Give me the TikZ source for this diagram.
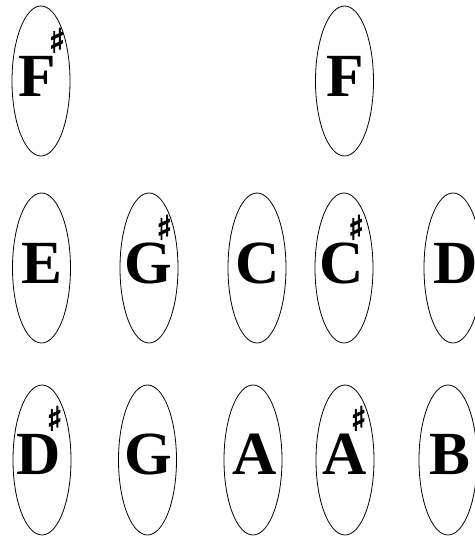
\documentclass[tikz,border=0pt]{standalone}
\usepackage{fontspec}
\setmainfont{Liberation Serif}[BoldFont={Liberation Serif Bold}]
\newfontfamily\shpfont{DejaVu Sans}[FakeBold=3]
\usetikzlibrary{shapes.geometric}
\newcommand{\shp}[1][0pt]{\kern#1\makebox[0pt][r]{\raisebox{33pt}{\fontsize{25}{25}\selectfont\shpfont ♯}}\kern-#1}
\begin{document}
\begin{tikzpicture}[x=0.75pt,y=-0.75pt,
  oval/.style={draw, ellipse, line width=0.6pt, inner sep=0pt, minimum width=43.5pt, minimum height=112.5pt},
  letter/.style={font=\fontsize{46}{46}\selectfont\bfseries, anchor=base, inner sep=0pt}]
\useasboundingbox (0,0) rectangle (475,537);
% row 1
\node[oval] (o1) at (41,81) {};
\node[oval] (o2) at (344.5,81) {};
\node[letter] (l1) at (37,96.5) {F\shp[7pt]};
\node[letter] (l2) at (345,96.5) {F};
% row 2
\node[oval] (o3) at (41.5,268) {};
\node[oval] (o4) at (149,268) {};
\node[oval] (o5) at (257,268) {};
\node[oval] (o6) at (344,268) {};
\node[oval] (o7) at (453,268) {};
\node[letter] (l3) at (42,283.5) {E};
\node[letter] (l4) at (148.5,283.5) {G\shp};
\node[letter] (l5) at (257.5,283.5) {C};
\node[letter] (l6) at (342,283.5) {C\shp};
\node[letter] (l7) at (456,283.5) {D};
% row 3
\node[oval] (o8) at (42,460) {};
\node[oval] (o9) at (147.5,460) {};
\node[oval] (o10) at (253,460) {};
\node[oval] (o11) at (345,460) {};
\node[oval] (o12) at (448,460) {};
\node[letter] (l8) at (38.5,474.5) {D\shp[1.5pt]};
\node[letter] (l9) at (148,474.5) {G};
\node[letter] (l10) at (254.5,474.5) {A};
\node[letter] (l11) at (344.5,474.5) {A\shp};
\node[letter] (l12) at (450,474.5) {B};
\end{tikzpicture}
\end{document}
